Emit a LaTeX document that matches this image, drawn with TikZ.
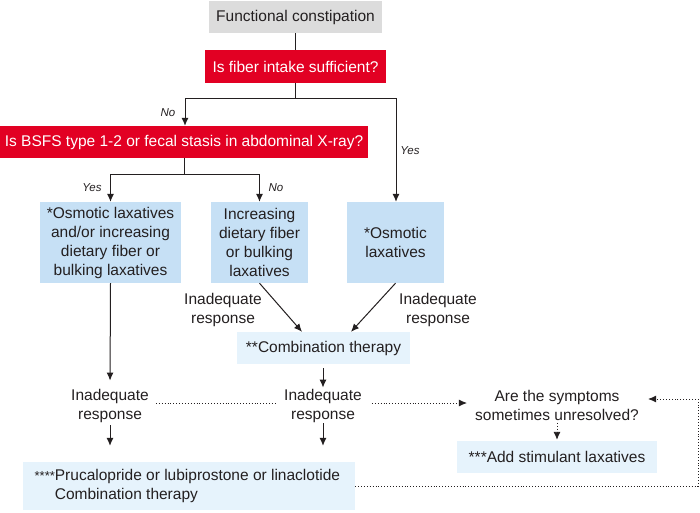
\documentclass[tikz,border=0pt]{standalone}
\usepackage{fontspec}
\setmainfont{Liberation Sans}
\usetikzlibrary{arrows.meta,calc}
\definecolor{redq}{RGB}{226,0,35}
\definecolor{bluebox}{RGB}{198,224,245}
\definecolor{palebox}{RGB}{230,243,252}
\definecolor{grayq}{RGB}{220,220,220}
\definecolor{inkq}{RGB}{35,31,32}
\tikzset{
  base/.style={font=\fontsize{15.5}{19}\selectfont, text=inkq, inner sep=0pt, align=center},
  graybox/.style={base, fill=grayq, minimum width=173pt, minimum height=32pt},
  redbox/.style={base, fill=redq, text=white, minimum height=33pt},
  bluenode/.style={base, fill=bluebox, minimum width=97pt, minimum height=81pt},
  palenode/.style={base, fill=palebox},
  plaintext/.style={base},
  branchlabel/.style={font=\fontsize{11.5}{13}\selectfont\itshape, text=inkq, inner sep=0pt},
  arr/.style={draw=inkq, line width=1pt, -{Latex[length=8pt,width=7pt]}},
  link/.style={draw=inkq, line width=1pt},
  dotarr/.style={draw=inkq, line width=0.9pt, dotted, -{Latex[length=8pt,width=7pt]}},
  dotlink/.style={draw=inkq, line width=0.9pt, dotted}
}
\begin{document}
\begin{tikzpicture}[x=1pt,y=-1pt]
\path[use as bounding box] (0,0) rectangle (700,512);

\node[graybox] (fc) at (295.5,17) {Functional constipation};
\node[redbox, minimum width=181pt] (fib) at (295.5,66.5) {Is fiber intake sufficient?};
\node[redbox, minimum width=368pt, minimum height=32pt] (bsfs) at (184,142) {Is BSFS type 1-2 or fecal stasis in abdominal X-ray?};

\node[bluenode, minimum width=141pt] (b1) at (110.5,242.5) {*Osmotic laxatives\\and/or increasing\\dietary fiber or\\bulking laxatives};
\node[bluenode] (b2) at (259.5,242.5) {Increasing\\dietary fiber\\or bulking\\laxatives};
\node[bluenode] (b3) at (395.5,242.5) {*Osmotic\\laxatives};

\node[palenode, minimum width=173pt, minimum height=32pt] (comb) at (323.5,348) {**Combination therapy};

\node[plaintext] (ia1) at (110,405.5) {Inadequate\\response};
\node[plaintext] (ia2) at (323,405.5) {Inadequate\\response};
\node[plaintext] (symp) at (557,405.5) {Are the symptoms\\sometimes unresolved?};

\node[palenode, minimum width=200pt, minimum height=32pt] (stim) at (557,457) {***Add stimulant laxatives};
\node[palenode, minimum width=332pt, minimum height=48pt, align=left] (final) at (189,486)
  {\hspace*{17pt}\llap{\fontsize{13}{13}\selectfont****}Prucalopride or lubiprostone or linaclotide\\\hspace*{17pt}Combination therapy};

\node[plaintext] (lab1) at (223,310) {Inadequate\\response};
\node[plaintext] (lab2) at (438,310) {Inadequate\\response};

% branch labels
\node[branchlabel] (lno1) at (168,113) {No};
\node[branchlabel] (lyes1) at (410,151) {Yes};
\node[branchlabel] (lyes2) at (92,188) {Yes};
\node[branchlabel] (lno2) at (276,188) {No};

% junction coordinates
\coordinate (jn) at (185,98);
\coordinate (jy) at (396,98);
\coordinate (js) at (184,174);
\coordinate (rc) at (698,399);

% connectors
\draw[link] (fc.south) -- (fib.north);
\draw[arr] (fib.south) |- (jn) -- (jn |- bsfs.north);
\draw[arr] (fib.south) |- (jy) -- (jy |- b3.north);
\draw[arr] (bsfs.south) -- (js) -| (b1.north);
\draw[arr] (js) -| (b2.north);

\draw[arr] (b2.south) -- ($(comb.north)+(-21.5,0)$);
\draw[arr] (b3.south) -- ($(comb.north)+(27.5,0)$);

\draw[arr, shorten >=8pt] (b1.south) -- (ia1.north);
\draw[arr, shorten <=4pt, shorten >=1pt] (comb.south -| ia2.north) -- (ia2.north);
\draw[arr, shorten <=3pt, shorten >=16pt] (ia1.south) -- (ia1.south |- final.north);
\draw[arr, shorten <=1pt, shorten >=16pt] (ia2.south) -- (ia2.south |- final.north);

\draw[dotlink, shorten <=7pt, shorten >=7pt] ([yshift=2.5pt]ia1.east) -- ([yshift=2.5pt]ia2.west);
\draw[dotarr, shorten <=10pt, shorten >=8pt] ([yshift=2.5pt]ia2.east) -- ([yshift=2.5pt]symp.west);
\draw[dotarr, shorten <=2pt, shorten >=1pt] (symp.south) -- (stim.north);
\draw[dotarr, shorten >=9pt] (final.east) -| (rc) -- (symp.east |- rc);
\end{tikzpicture}
\end{document}
